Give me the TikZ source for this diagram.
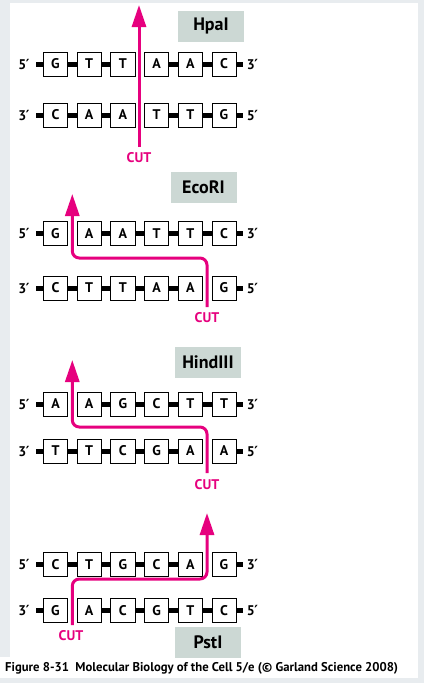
\documentclass[tikz,border=0pt]{standalone}
\usepackage{fontspec}
\setmainfont{PT Sans}
\newfontfamily\primefont{DejaVu Sans}
\usetikzlibrary{arrows.meta}
\definecolor{bgcol}{HTML}{E8ECEF}
\definecolor{labfill}{HTML}{CCD8D4}
\definecolor{cutcol}{HTML}{E6007E}
\newcommand\pr{\kern-0.6pt{\primefont\bfseries ′}}
\tikzset{
  base/.style={draw=black, line width=0.8pt, fill=white, minimum width=24.2pt, minimum height=24.2pt, inner sep=0pt, font=\fontsize{14}{16}\selectfont\bfseries},
  endlab/.style={inner sep=0pt, font=\fontsize{14}{16}\selectfont\bfseries},
  dnabar/.style={line width=5pt, black},
  enzlab/.style={fill=labfill, minimum width=66pt, minimum height=31pt, inner sep=0pt, font=\fontsize{18}{20}\selectfont\bfseries},
  cutlab/.style={inner sep=0pt, text=cutcol, font=\fontsize{14}{16}\selectfont\bfseries},
  cutarrow/.style={cutcol, line width=3pt, rounded corners=7pt, -{Triangle[length=22pt,width=14pt]}},
}
\newcommand\dnastrand[6]{%
  \node[endlab] (#1l) at (24,#2) {#5};
  \foreach \b [count=\i from 0] in {#3} {\node[base] (#1\i) at ({55.5+33.7*\i},#2) {\b};}
  \coordinate (#1bl) at (36,#2);
  \coordinate (#1br) at (243,#2);
  \draw[dnabar] (#1bl) -- (#10.west);
  \foreach \i [evaluate=\i as \j using int(\i+1)] in {0,...,4} {\ifnum\i=#4\relax\else\draw[dnabar] (#1\i.east) -- (#1\j.west);\fi}
  \draw[dnabar] (#15.east) -- (#1br);
  \node[endlab] (#1r) at (252.5,#2) {#6};
}
\begin{document}
\begin{tikzpicture}[x=1pt,y=-1pt]
\useasboundingbox (0,0) rectangle (424,683);
\fill[bgcol] (0,0) rectangle (424,683);
\fill[white] (10,3) rectangle (418,678);
\fill[white] (0,657) rectangle (418,678);
% HpaI
\node[enzlab] (hpa) at (211,26) {HpaI};
\dnastrand{ha}{64}{G,T,T,A,A,C}{2}{5\pr}{3\pr}
\dnastrand{hb}{115}{C,A,A,T,T,G}{2}{3\pr}{5\pr}
\node[cutlab] (hpacut) at (139,158) {CUT};
\coordinate (hpaS) at (139,147);
\coordinate (hpaT) at (139,5);
\draw[cutarrow] (hpaS) -- (hpaT);
% EcoRI
\node[enzlab] (eco) at (203.5,187.5) {EcoRI};
\dnastrand{ea}{233.5}{G,A,A,T,T,C}{0}{5\pr}{3\pr}
\dnastrand{eb}{288}{C,T,T,A,A,G}{4}{3\pr}{5\pr}
\node[cutlab] (ecocut) at (207,318) {CUT};
\coordinate (ecoS) at (207,307);
\coordinate (ecoK) at (72.3,258);
\coordinate (ecoT) at (72.3,194);
\draw[cutarrow] (ecoS) |- (ecoK) -- (ecoT);
% HindIII
\node[enzlab] (hind) at (208,362.5) {HindIII};
\dnastrand{da}{404}{A,A,G,C,T,T}{0}{5\pr}{3\pr}
\dnastrand{db}{451}{T,T,C,G,A,A}{4}{3\pr}{5\pr}
\node[cutlab] (hindcut) at (207,485) {CUT};
\coordinate (hindS) at (207,473);
\coordinate (hindK) at (72.3,427);
\coordinate (hindT) at (72.3,360);
\draw[cutarrow] (hindS) |- (hindK) -- (hindT);
% PstI
\dnastrand{pa}{564.3}{C,T,G,C,A,G}{4}{5\pr}{3\pr}
\dnastrand{pb}{610.7}{G,A,C,G,T,C}{0}{3\pr}{5\pr}
\node[cutlab] (pstcut) at (71,636) {CUT};
\coordinate (pstS) at (72.3,625);
\coordinate (pstK) at (207,579);
\coordinate (pstT) at (207,513);
\draw[cutarrow] (pstS) |- (pstK) -- (pstT);
\node[enzlab] (pst) at (208,642) {PstI};
% caption
\node[anchor=west, inner sep=0pt, font=\fontsize{12.7}{14}\selectfont\bfseries] (cap) at (5,668) {Figure 8-31\ \ Molecular Biology of the Cell 5/e (© Garland Science 2008)};
\end{tikzpicture}
\end{document}
